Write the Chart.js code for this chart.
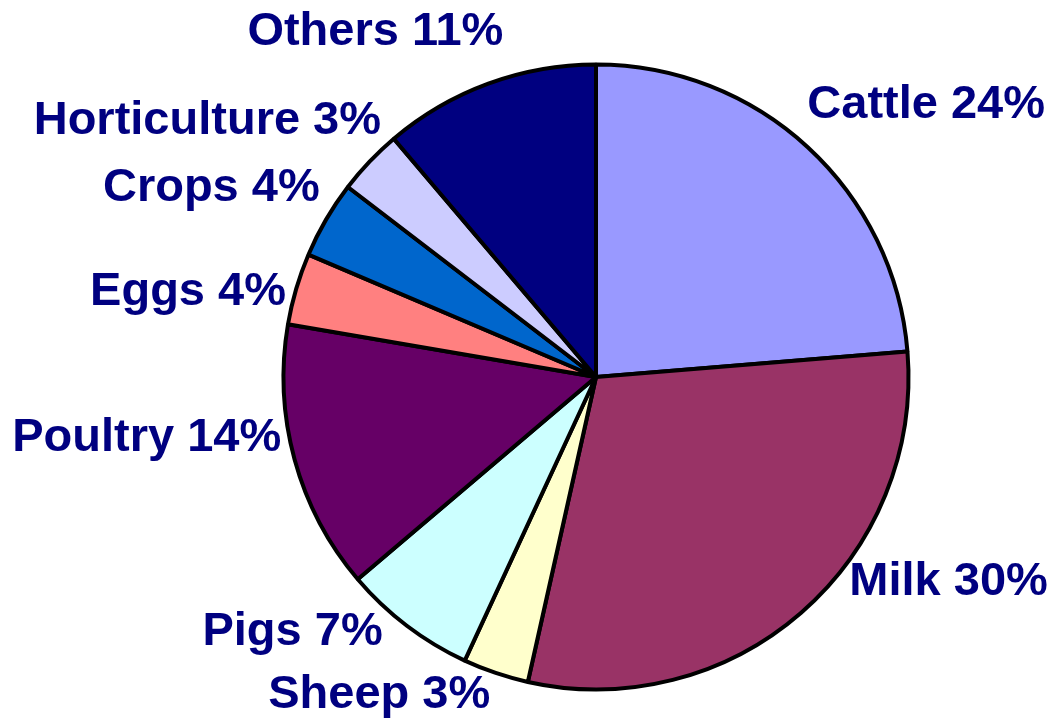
<!DOCTYPE html>
<html lang="en">
  <head>
    <meta charset="UTF-8" />
    <title>Output by sector</title>
    <style>
      body {
        margin: 0;
        background: #fff;
      }
    </style>
  </head>
  <body>
    <canvas id="sectorChart" width="1054" height="725"></canvas>

    <script src="https://cdn.jsdelivr.net/npm/chart.js"></script>
    <script>
      // slices clockwise from 12 o'clock
      const sectors = ['Cattle', 'Milk', 'Sheep', 'Pigs', 'Poultry', 'Eggs', 'Crops', 'Horticulture', 'Others'];
      const shares = [23.7, 29.8, 3.4, 6.9, 13.9, 3.7, 4.0, 3.4, 11.2];
      const sliceColors = ['#9999FF', '#993366', '#FFFFCC', '#CCFFFF', '#660066', '#FF8080', '#0066CC', '#CCCCFF', '#000080'];

      // small hand nudges so labels sit where the original put them
      const labelNudge = [
        [-14, -27], [35, -46], [1, 3], [-12, -10], [6, -27],
        [9, 9], [11, -21], [26, -27], [22, -33],
      ];

      const outsideLabels = {
        id: 'outsideLabels',
        afterDatasetsDraw(chart) {
          const ctx = chart.ctx;
          const arcs = chart.getDatasetMeta(0).data;
          ctx.save();
          ctx.font = 'bold 47px "Liberation Sans", Arial, sans-serif';
          ctx.fillStyle = '#000080';
          ctx.textBaseline = 'middle';
          arcs.forEach((arc, i) => {
            const mid = (arc.startAngle + arc.endAngle) / 2;
            const r = arc.outerRadius + 20;
            const x = arc.x + Math.cos(mid) * r + labelNudge[i][0];
            const y = arc.y + Math.sin(mid) * r + labelNudge[i][1];
            ctx.textAlign = Math.cos(mid) >= 0 ? 'left' : 'right';
            ctx.fillText(sectors[i] + ' ' + Math.round(shares[i]) + '%', x, y);
          });
          ctx.restore();
        },
      };

      new Chart(document.getElementById('sectorChart'), {
        type: 'pie',
        data: {
          labels: sectors,
          datasets: [
            {
              data: shares,
              backgroundColor: sliceColors,
              borderColor: '#000',
              borderWidth: 4,
            },
          ],
        },
        options: {
          responsive: false,
          animation: false,
          layout: { padding: { left: 281.5, right: 143.5, top: 62.5, bottom: 33.5 } },
          plugins: { legend: { display: false }, tooltip: { enabled: false } },
        },
        plugins: [outsideLabels],
      });
    </script>
  </body>
</html>
